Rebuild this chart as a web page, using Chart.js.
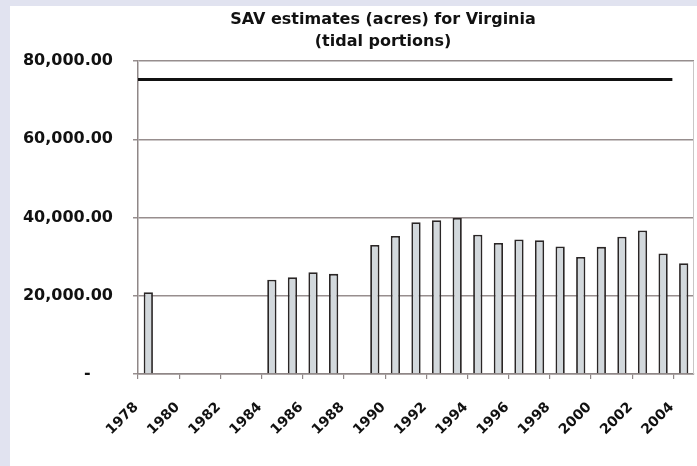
<!DOCTYPE html>
<html>
<head>
<meta charset="utf-8">
<script src="https://cdn.jsdelivr.net/npm/chart.js@4.4.1/dist/chart.umd.min.js"></script>
<style>
  html, body { margin: 0; padding: 0; background: #e1e3f0; overflow: hidden; }
  #wrap { position: absolute; left: 10px; top: 6px; width: 687px; height: 460px; background: #ffffff; }
  canvas { display: block; }
</style>
</head>
<body>
<div id="wrap"><canvas id="c" width="687" height="460"></canvas></div>
<script>
// ---- data ----
const years = ['1978','1979','1980','1981','1982','1983','1984','1985','1986','1987','1988','1989','1990','1991','1992','1993','1994','1995','1996','1997','1998','1999','2000','2001','2002','2003','2004'];
const savAcres = [20900, null, null, null, null, null, 24100, 24700, 26000, 25600, null, 33000, 35300, 38800, 39300, 39900, 35600, 33500, 34400, 34200, 32600, 29900, 32500, 35100, 36700, 30800, 28300];
const goalValue = 75300;
const goalSpanYears = [1977.5, 2003.45];
const yTicks = [0, 20000, 40000, 60000, 80000];
const titleLines = ['SAV estimates (acres) for Virginia', '(tidal portions)'];

const FONT = 'DejaVu Sans';

const frame = {
  id: 'frame',
  afterDraw(chart) {
    const a = chart.chartArea, ctx = chart.ctx;
    ctx.save();
    ctx.strokeStyle = '#c9c6c6';
    ctx.lineWidth = 1;
    ctx.beginPath();
    ctx.moveTo(a.left, a.top + 0.5);
    ctx.lineTo(a.right - 0.5, a.top + 0.5);
    ctx.lineTo(a.right - 0.5, a.bottom);
    ctx.stroke();
    ctx.restore();
  }
};

new Chart(document.getElementById('c'), {
  data: {
    labels: years,
    datasets: [
      {
        type: 'bar',
        label: 'SAV acres',
        data: savAcres,
        backgroundColor: '#d2d8dc',
        borderColor: '#2a2626',
        borderWidth: 1.8,
        grouped: false,
        categoryPercentage: 1.0,
        barPercentage: 0.45,
        xAxisID: 'x',
        yAxisID: 'y',
        order: 2
      },
      {
        type: 'line',
        label: 'Goal',
        data: goalSpanYears.map(v => ({ x: v, y: goalValue })),
        borderColor: '#111111',
        borderWidth: 3,
        pointRadius: 0,
        fill: false,
        xAxisID: 'x2',
        yAxisID: 'y',
        order: 1
      }
    ]
  },
  options: {
    responsive: false,
    animation: false,
    layout: { padding: { left: 62, right: 3, top: 0, bottom: 0 } },
    plugins: {
      legend: { display: false },
      tooltip: { enabled: false },
      title: {
        display: true,
        text: titleLines,
        color: '#111111',
        font: { family: FONT, weight: 'bold', size: 16, lineHeight: 1.375 },
        padding: { top: 3, bottom: 8 }
      }
    },
    scales: {
      x: {
        type: 'category',
        offset: true,
        afterFit(axis) {
          axis.height = 92;
          axis.paddingLeft = 0;
          axis.paddingRight = 0;
        },
        grid: {
          offset: true,
          drawOnChartArea: false,
          drawTicks: true,
          tickLength: 5,
          lineWidth: 1.2,
          color: (ctx) => (ctx.index % 2 === 0 ? '#8f8787' : 'rgba(0,0,0,0)')
        },
        border: { display: true, color: '#8f8787', width: 1.5 },
        ticks: {
          autoSkip: false,
          maxRotation: 45,
          minRotation: 45,
          padding: 20,
          labelOffset: -12,
          color: '#111111',
          font: { family: FONT, weight: 'bold', size: 14 },
          callback: function (val, i) { return i % 2 === 0 ? this.getLabelForValue(val) : ''; }
        }
      },
      x2: {
        type: 'linear',
        display: false,
        min: 1977.5,
        max: 2004.5
      },
      y: {
        min: 0,
        max: 80000,
        afterFit(axis) {
          axis.width = 66;
          axis._computeLabelArea = () => undefined;
        },
        afterBuildTicks(axis) { axis.ticks = yTicks.map(v => ({ value: v })); },
        grid: {
          color: '#978e8e',
          lineWidth: 1.5,
          drawTicks: true,
          tickLength: 5
        },
        border: { display: true, color: '#8f8787', width: 1.5 },
        ticks: {
          padding: 20,
          color: '#111111',
          font: { family: FONT, weight: 'bold', size: 16 },
          callback: (v) => v === 0 ? '-    ' : v.toLocaleString('en-US', { minimumFractionDigits: 2, maximumFractionDigits: 2 })
        }
      }
    }
  },
  plugins: [frame]
});
</script>
</body>
</html>
